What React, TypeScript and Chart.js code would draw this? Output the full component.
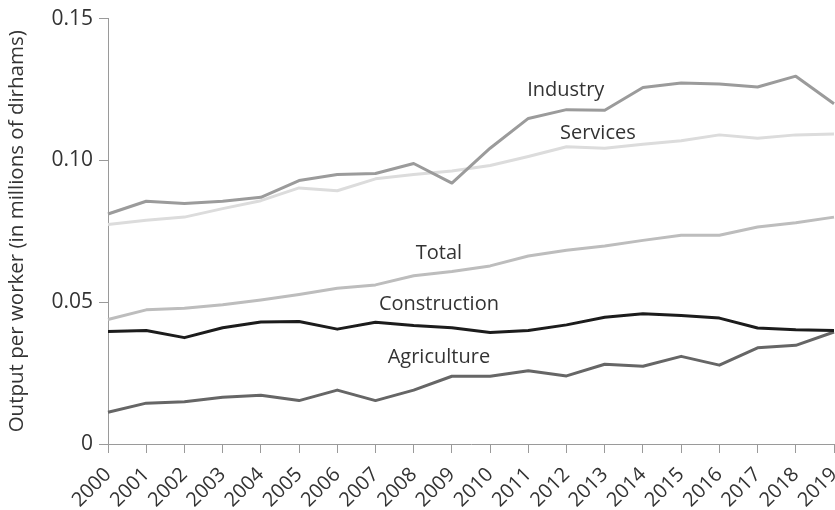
import React, { useEffect, useRef } from "react";
import { Chart, registerables } from "chart.js";

Chart.register(...registerables);

const years = ["2000","2001","2002","2003","2004","2005","2006","2007","2008","2009","2010","2011","2012","2013","2014","2015","2016","2017","2018","2019"];

const industry = [0.0811,0.0856,0.0848,0.0856,0.0870,0.0929,0.0950,0.0954,0.0989,0.0920,0.1043,0.1148,0.1179,0.1177,0.1257,0.1273,0.1269,0.1259,0.1297,0.1200];
const services = [0.0774,0.0789,0.0800,0.0830,0.0858,0.0903,0.0893,0.0935,0.0950,0.0963,0.0982,0.1014,0.1048,0.1043,0.1057,0.1069,0.1090,0.1078,0.1090,0.1093];
const total = [0.0439,0.0473,0.0479,0.0491,0.0508,0.0527,0.0549,0.0561,0.0593,0.0608,0.0628,0.0663,0.0683,0.0698,0.0718,0.0736,0.0736,0.0765,0.0780,0.0800];
const construction = [0.0397,0.0400,0.0375,0.0410,0.0430,0.0432,0.0405,0.0429,0.0418,0.0410,0.0393,0.0400,0.0420,0.0447,0.0459,0.0453,0.0444,0.0409,0.0403,0.0400];
const agriculture = [0.0112,0.0144,0.0149,0.0165,0.0172,0.0153,0.0190,0.0153,0.0190,0.0239,0.0239,0.0258,0.0240,0.0281,0.0274,0.0309,0.0278,0.0339,0.0348,0.0395];

const yTicks = [0, 0.05, 0.1, 0.15];
const yTickLabels = ["0", "0.05", "0.10", "0.15"];

const seriesNames = ["Industry", "Construction", "Agriculture", "Total", "Services"];

// label anchors in data space: [x index, value]
const labelAnchors: Record<string, [number, number]> = {
  Industry: [11.98, 0.1247],
  Services: [12.82, 0.1095],
  Total: [8.66, 0.0671],
  Construction: [8.66, 0.0492],
  Agriculture: [8.66, 0.0307],
};

const FONT = "'Open Sans', 'DejaVu Sans', sans-serif";
const TEXT = "#333333";
const AXIS = "#9a9a9a";

const inlineLabels = {
  id: "inlineLabels",
  afterDatasetsDraw(chart: any) {
    const { ctx, scales } = chart;
    ctx.save();
    ctx.font = `20px ${FONT}`;
    ctx.fillStyle = TEXT;
    ctx.textAlign = "center";
    ctx.textBaseline = "middle";
    for (const name of Object.keys(labelAnchors)) {
      const [xi, v] = labelAnchors[name];
      const x = scales.x.getPixelForValue(xi);
      const y = scales.y.getPixelForValue(v);
      ctx.fillText(name, x, y);
    }
    ctx.restore();
  },
};

export default function App() {
  const ref = useRef<HTMLCanvasElement>(null);
  useEffect(() => {
    if (!ref.current) return;
    const dataMap: Record<string, number[]> = {
      Industry: industry,
      Services: services,
      Total: total,
      Construction: construction,
      Agriculture: agriculture,
    };
    const colors: Record<string, string> = {
      Industry: "#9b9b9b",
      Services: "#dcdcdc",
      Total: "#bdbdbd",
      Construction: "#1c1c1c",
      Agriculture: "#666666",
    };
    const chart = new Chart(ref.current, {
      type: "line",
      data: {
        labels: years,
        datasets: seriesNames.map((n) => ({
          label: n,
          data: dataMap[n],
          borderColor: colors[n],
          backgroundColor: colors[n],
          borderWidth: 3,
          pointRadius: 0,
          tension: 0,
          fill: false,
          borderJoinStyle: "round" as const,
        })),
      },
      options: {
        responsive: false,
        animation: false,
        layout: { padding: { top: 16, right: 1, left: 0, bottom: 0 } },
        plugins: {
          legend: { display: false },
          tooltip: { enabled: false },
        },
        scales: {
          x: {
            type: "category",
            offset: false,
            grid: {
              display: true,
              drawOnChartArea: false,
              drawTicks: true,
              tickLength: 9,
              color: AXIS,
              lineWidth: 1,
            },
            border: { display: true, color: AXIS, width: 1 },
            ticks: {
              color: TEXT,
              font: { family: FONT, size: 20 },
              maxRotation: 45,
              minRotation: 45,
              autoSkip: false,
              padding: 10,
            },
            afterFit(scale: any) {
              scale.height = 66;
              scale.paddingLeft = 0;
              scale.paddingRight = 0;
            },
          },
          y: {
            min: 0,
            max: 0.15,
            afterBuildTicks(scale: any) {
              scale.ticks = yTicks.map((v) => ({ value: v }));
            },
            grid: {
              display: true,
              drawOnChartArea: false,
              drawTicks: true,
              tickLength: 9,
              color: AXIS,
              lineWidth: 1,
            },
            border: { display: true, color: AXIS, width: 1 },
            ticks: {
              color: TEXT,
              font: { family: FONT, size: 21 },
              padding: 6,
              callback: (v: any) => {
                const i = yTicks.findIndex((t) => Math.abs(t - Number(v)) < 1e-9);
                return i >= 0 ? yTickLabels[i] : "";
              },
            },
            title: {
              display: true,
              text: "Output per worker (in millions of dirhams)",
              color: TEXT,
              font: { family: FONT, size: 20.5 },
              padding: { top: 5, bottom: 0 },
            },
            afterFit(scale: any) {
              scale.width = 108;
            },
          },
        },
      },
      plugins: [inlineLabels],
    });
    return () => chart.destroy();
  }, []);
  return (
    <div style={{ position: "absolute", left: 0, top: 0, width: 835, height: 510 }}>
      <canvas ref={ref} width={835} height={510} style={{ display: "block" }} />
    </div>
  );
}
